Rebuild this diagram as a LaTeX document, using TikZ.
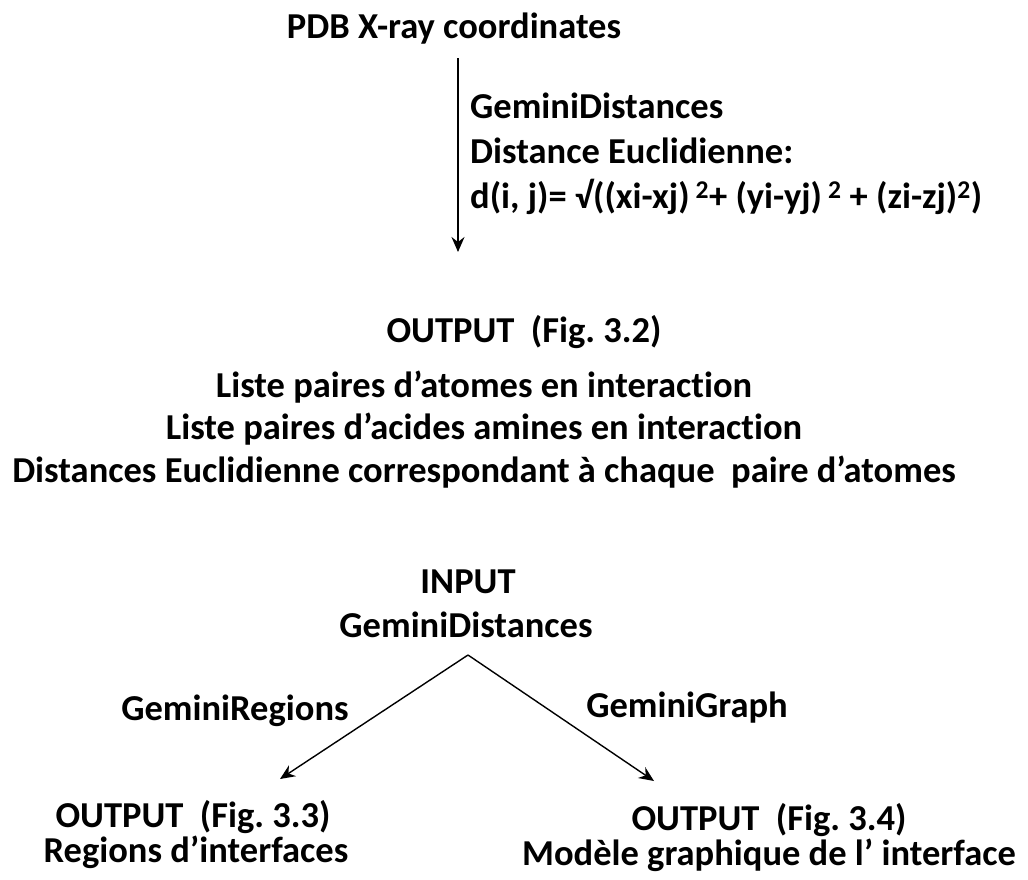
\documentclass[tikz,border=0pt]{standalone}
\usepackage{fontspec}
\setmainfont{Carlito}[Ligatures=NoCommon]
\frenchspacing
\usetikzlibrary{arrows.meta}

\tikzset{
  txt/.style={font=\bfseries\fontsize{36.5}{40}\selectfont, inner sep=0pt, anchor=base},
  lft/.style={txt, anchor=base west},
  arr/.style={-{Stealth[length=15pt,width=13pt,inset=5pt]}, line width=1.4pt},
}

\begin{document}
\begin{tikzpicture}[x=1pt,y=-1pt]
    \useasboundingbox (0,0) rectangle (1028,879);
    % top: input file and first program
    \node[txt] (pdb) at (454,38) {PDB X-ray coordinates};
    \node[lft] (gdname) at (470,118) {GeminiDistances};
    \node[lft] (euclid) at (470,163) {Distance Euclidienne:};
    \node[lft] (formula) at (470,208) {d(i, j)= √((xi-xj)\,\textsuperscript{2}+ (yi-yj)\,\textsuperscript{2} + (zi-zj)\textsuperscript{2})};
    \coordinate (a1) at (458,252);
    \draw[arr] ([shift={(4,20)}]pdb.base) -- (a1);

    % output of GeminiDistances
    \node[txt] (out32) at (524,342) {OUTPUT\ \ (Fig. 3.2)};
    \node[txt] (atoms) at (484,397) {Liste paires d’atomes en interaction};
    \node[txt] (acids) at (484,439) {Liste paires d’acides amines en interaction};
    \node[txt] (dists) at (484,482) {Distances Euclidienne correspondant à chaque\ \ paire d’atomes};

    % bottom: the two programs
    \node[txt] (inp) at (468,593) {INPUT};
    \node[txt] (ind) at (466,637) {GeminiDistances};
    \coordinate (apex) at ([shift={(2,18)}]ind.base);
    \coordinate (tipL) at (280,779);
    \coordinate (tipR) at (654,781);
    \draw[arr] (apex) -- (tipL);
    \draw[arr] (apex) -- (tipR);
    \node[txt] (reg) at (235,720) {GeminiRegions};
    \node[txt] (gra) at (687,717) {GeminiGraph};

    \node[txt] (out33) at (193,827) {OUTPUT\ \ (Fig. 3.3)};
    \node[txt] (regions) at (196,862) {Regions d’interfaces};
    \node[txt] (out34) at (769,830) {OUTPUT\ \ (Fig. 3.4)};
    \node[txt] (model) at (769,865) {Modèle graphique de l’ interface};
\end{tikzpicture}
\end{document}
